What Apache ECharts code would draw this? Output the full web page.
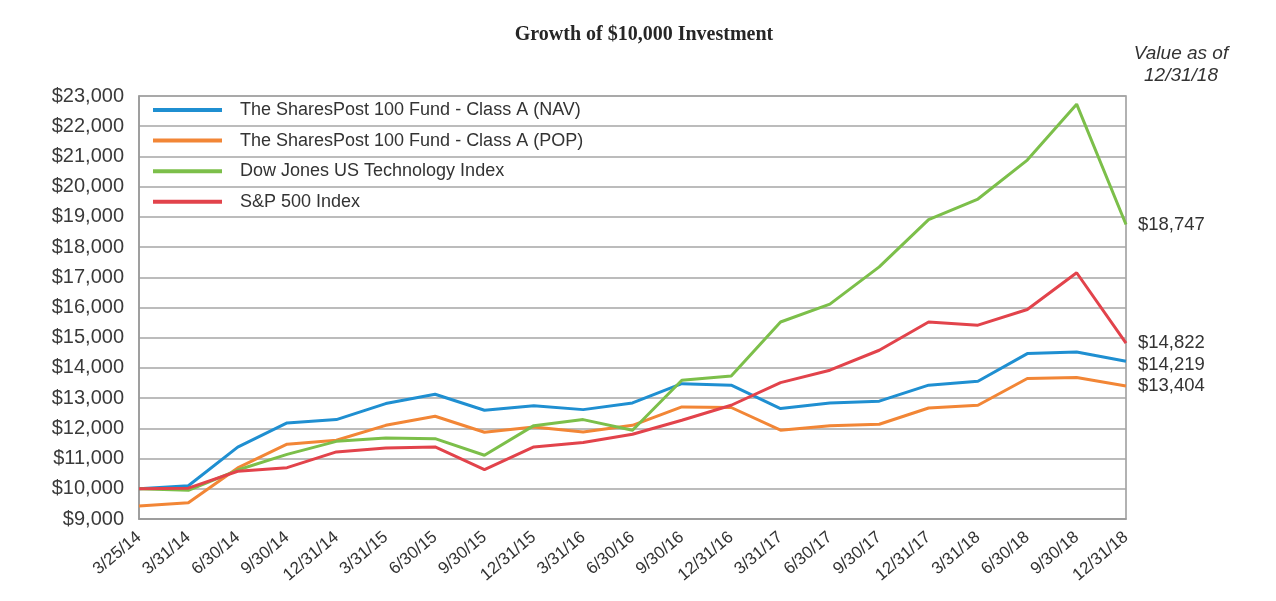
<!DOCTYPE html>
<html>
<head>
<meta charset="utf-8">
<script src="https://cdn.jsdelivr.net/npm/echarts@6/dist/echarts.min.js"></script>
<style>html,body{margin:0;padding:0;background:#fff;}#c{width:1276px;height:601px;}</style>
</head>
<body>
<div id="c"></div>
<script>
const categories = ['3/25/14','3/31/14','6/30/14','9/30/14','12/31/14','3/31/15','6/30/15','9/30/15','12/31/15','3/31/16','6/30/16','9/30/16','12/31/16','3/31/17','6/30/17','9/30/17','12/31/17','3/31/18','6/30/18','9/30/18','12/31/18'];
const navValues = [10000,10100,11380,12180,12290,12820,13130,12600,12750,12620,12840,13480,13430,12655,12840,12900,13430,13560,14475,14530,14219];
const popValues = [9430,9540,10690,11475,11605,12100,12400,11870,12045,11880,12100,12710,12690,11940,12090,12135,12675,12765,13650,13680,13404];
const djValues = [10000,9950,10620,11140,11570,11680,11660,11110,12090,12290,11935,13590,13735,15520,16110,17345,18910,19590,20880,22730,18747];
const spValues = [10000,10020,10580,10700,11220,11350,11385,10635,11385,11530,11805,12270,12765,13515,13925,14585,15520,15415,15935,17150,14822];
const seriesNames = ['The SharesPost 100 Fund - Class A (NAV)','The SharesPost 100 Fund - Class A (POP)','Dow Jones US Technology Index','S&P 500 Index'];
const yMin = 9000, yMax = 23000, yStep = 1000;

const fmt = v => '$' + Math.round(v).toLocaleString('en-US');
const colors = ['#1f8fd1','#f28636','#7cbf4a','#e2434b'];
const endOffsets = [[0,4],[0,0],[0,0],[0,0]];
const data = [navValues, popValues, djValues, spValues];

const chart = echarts.init(document.getElementById('c'));
chart.setOption({
  animation: false,
  title: [{
    text: 'Growth of $10,000 Investment',
    left: 644, top: 25, textAlign: 'center', padding: 0,
    textStyle: {fontFamily: 'Liberation Serif', fontWeight: 'bold', fontSize: 20, color: '#262626'}
  },{
    text: 'Value as of\n12/31/18',
    left: 1181, top: 43, textAlign: 'center', padding: 0,
    textStyle: {fontFamily: 'Liberation Sans', fontStyle: 'italic', fontWeight: 'normal', fontSize: 19, lineHeight: 22, color: '#333'}
  }],
  legend: {
    orient: 'vertical', left: 153, top: 100, padding: 0,
    itemWidth: 69, itemHeight: 4, itemGap: 10.6,
    icon: 'rect',
    textStyle: {fontFamily: 'Liberation Sans', fontSize: 18, color: '#333', lineHeight: 20, padding: [0,0,0,13]},
    data: seriesNames
  },
  grid: {left: 139, right: 150, top: 96, bottom: 82, show: true, borderColor: '#999', borderWidth: 1.5},
  xAxis: {
    type: 'category', data: categories, boundaryGap: false,
    axisLine: {lineStyle: {color: '#999', width: 1.5}},
    axisTick: {show: false},
    axisLabel: {rotate: 40, fontFamily: 'Liberation Sans', fontSize: 17, color: '#333', margin: 16, interval: 0}
  },
  yAxis: {
    type: 'value', min: yMin, max: yMax, interval: yStep,
    axisLine: {show: true, lineStyle: {color: '#999', width: 1.5}},
    axisTick: {show: false},
    splitLine: {lineStyle: {color: '#a6a6a6', width: 1.5}},
    axisLabel: {formatter: fmt, fontFamily: 'Liberation Sans', fontSize: 20, color: '#3a3a3a', margin: 15}
  },
  series: seriesNames.map((n, i) => ({
    name: n, type: 'line', data: data[i], color: colors[i],
    symbol: 'none', lineStyle: {width: 3, color: colors[i]},
    itemStyle: {color: colors[i]},
    endLabel: {show: true, formatter: p => fmt(p.value), distance: 12, offset: endOffsets[i],
      fontFamily: 'Liberation Sans', fontSize: 18.5, color: '#333'}
  }))
});
</script>
</body>
</html>
